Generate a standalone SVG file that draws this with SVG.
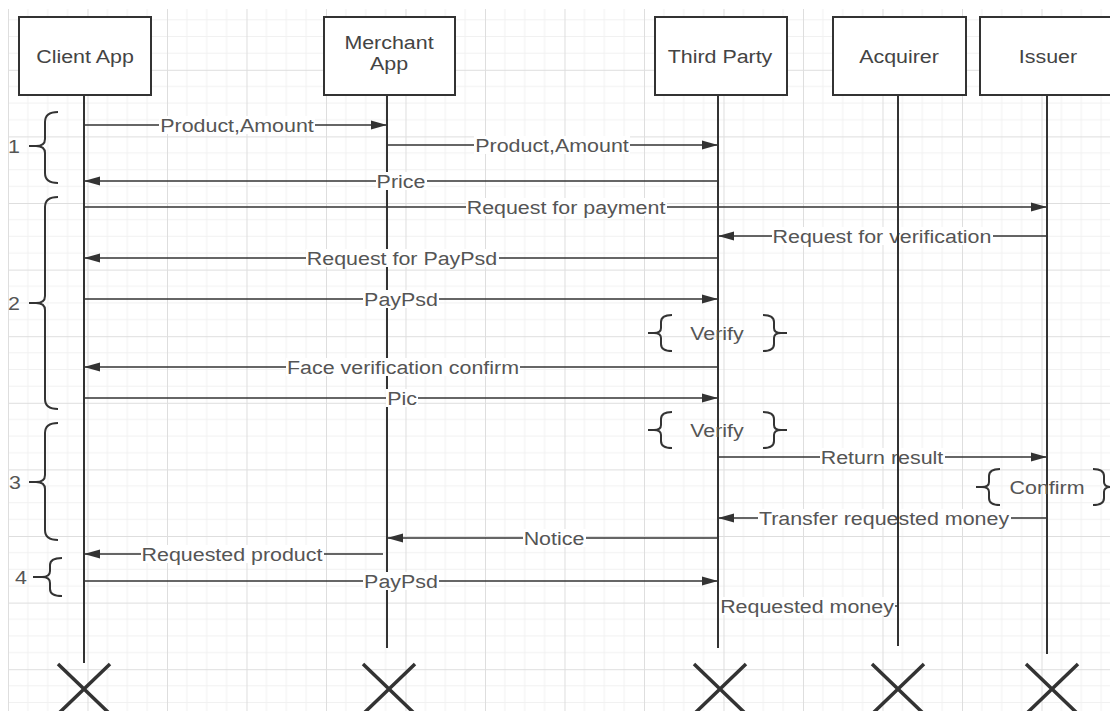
<svg xmlns="http://www.w3.org/2000/svg" width="1110" height="711" viewBox="0 0 1110 711">
<style>
.box{fill:#fff;stroke:#333;stroke-width:2}
.life{stroke:#333;stroke-width:2}
.msg{stroke:#333;stroke-width:1.6;fill:none}
.bg{fill:#fff}
.t{font-family:"Liberation Sans",Arial,sans-serif;font-size:18px;fill:#555;text-anchor:middle}
.h{font-family:"Liberation Sans",Arial,sans-serif;font-size:18px;fill:#444;text-anchor:middle}
.brace{fill:none;stroke:#333;stroke-width:2}
.x{stroke:#333;stroke-width:3.5}
</style>
<defs>
<pattern id="grid" patternUnits="userSpaceOnUse" x="8" y="3.2" width="79.5" height="66.6">
<path d="M19.875,0V66.6M39.75,0V66.6M59.625,0V66.6M0,16.65H79.5M0,33.3H79.5M0,49.95H79.5" stroke="#f1f1f1" stroke-width="1" fill="none"/>
<path d="M0.5,0V66.6M0,0.5H79.5" stroke="#dedede" stroke-width="1" fill="none"/>
</pattern>
<marker id="ah" markerUnits="userSpaceOnUse" markerWidth="16" markerHeight="10" refX="16" refY="5" orient="auto">
<path d="M0,0.5 L16,5 L0,9.5 z" fill="#333"/>
</marker>
<path id="lb" d="M24,0 Q13,0 13,7 L13,13 Q13,18 6,18 Q13,18 13,23 L13,29 Q13,36 24,36 M0,18 H6"/>
<path id="rb" d="M0,0 Q11,0 11,7 L11,13 Q11,18 18,18 Q11,18 11,23 L11,29 Q11,36 0,36 M18,18 H24"/>
</defs>
<rect width="1110" height="711" fill="#fff"/>
<rect x="8" y="9" width="1102" height="702" fill="url(#grid)"/>

<g id="client-app">
<rect class="box" x="19" y="17" width="132" height="78"/>
<text class="h" transform="translate(85,63) scale(1.19,1)">Client App</text>
<line class="life" x1="84" y1="95" x2="84" y2="663"/>
<path class="x" d="M58,664 L110,714 M110,664 L58,714"/>
</g>

<g id="merchant-app">
<rect class="box" x="324" y="17" width="131" height="78"/>
<text class="h" transform="translate(389,49) scale(1.19,1)">Merchant</text>
<text class="h" transform="translate(389,70) scale(1.19,1)">App</text>
<line class="life" x1="387" y1="95" x2="387" y2="648"/>
<path class="x" d="M363,664 L415,714 M415,664 L363,714"/>
</g>

<g id="connectors">
<line class="msg" x1="84" y1="125" x2="387" y2="125" marker-end="url(#ah)"/>
<line class="msg" x1="387" y1="145" x2="718" y2="145" marker-end="url(#ah)"/>
<line class="msg" x1="718" y1="181" x2="84" y2="181" marker-end="url(#ah)"/>
<line class="msg" x1="84" y1="207" x2="1047" y2="207" marker-end="url(#ah)"/>
<line class="msg" x1="1047" y1="236" x2="718" y2="236" marker-end="url(#ah)"/>
<line class="msg" x1="718" y1="258" x2="84" y2="258" marker-end="url(#ah)"/>
<line class="msg" x1="84" y1="299" x2="718" y2="299" marker-end="url(#ah)"/>
<line class="msg" x1="718" y1="367" x2="84" y2="367" marker-end="url(#ah)"/>
<line class="msg" x1="84" y1="398" x2="718" y2="398" marker-end="url(#ah)"/>
<line class="msg" x1="718" y1="457" x2="1047" y2="457" marker-end="url(#ah)"/>
<line class="msg" x1="1047" y1="518" x2="718" y2="518" marker-end="url(#ah)"/>
<line class="msg" x1="718" y1="538" x2="387" y2="538" marker-end="url(#ah)"/>
<line class="msg" x1="383" y1="554" x2="84" y2="554" marker-end="url(#ah)"/>
<line class="msg" x1="84" y1="581" x2="718" y2="581" marker-end="url(#ah)"/>
<line class="msg" x1="718" y1="606" x2="898" y2="606"/>

<rect class="bg" x="159" y="116" width="156" height="18"/>
<rect class="bg" x="474" y="136" width="156" height="18"/>
<rect class="bg" x="376" y="172" width="51" height="18"/>
<rect class="bg" x="466" y="198" width="201" height="18"/>
<rect class="bg" x="772" y="227" width="221" height="18"/>
<rect class="bg" x="306" y="249" width="193" height="18"/>
<rect class="bg" x="363" y="290" width="76" height="18"/>
<rect class="bg" x="286" y="358" width="234" height="18"/>
<rect class="bg" x="386" y="389" width="32" height="18"/>
<rect class="bg" x="820" y="448" width="125" height="18"/>
<rect class="bg" x="758" y="509" width="253" height="18"/>
<rect class="bg" x="523" y="529" width="63" height="18"/>
<rect class="bg" x="141" y="545" width="183" height="18"/>
<rect class="bg" x="363" y="572" width="76" height="18"/>
<rect class="bg" x="719" y="597" width="176" height="18"/>

<text class="t" transform="translate(237,131.5) scale(1.19,1)">Product,Amount</text>
<text class="t" transform="translate(552,151.5) scale(1.19,1)">Product,Amount</text>
<text class="t" transform="translate(401,187.5) scale(1.19,1)">Price</text>
<text class="t" transform="translate(566,213.5) scale(1.19,1)">Request for payment</text>
<text class="t" transform="translate(882,242.5) scale(1.19,1)">Request for verification</text>
<text class="t" transform="translate(402,264.5) scale(1.19,1)">Request for PayPsd</text>
<text class="t" transform="translate(401,305.5) scale(1.19,1)">PayPsd</text>
<text class="t" transform="translate(403,373.5) scale(1.19,1)">Face verification confirm</text>
<text class="t" transform="translate(402,404.5) scale(1.19,1)">Pic</text>
<text class="t" transform="translate(882,463.5) scale(1.19,1)">Return result</text>
<text class="t" transform="translate(884,524.5) scale(1.19,1)">Transfer requested money</text>
<text class="t" transform="translate(554,544.5) scale(1.19,1)">Notice</text>
<text class="t" transform="translate(232,560.5) scale(1.19,1)">Requested product</text>
<text class="t" transform="translate(401,587.5) scale(1.19,1)">PayPsd</text>
<text class="t" transform="translate(807,612.5) scale(1.19,1)">Requested money</text>
</g>

<g id="third-party">
<rect class="box" x="655" y="17" width="132" height="78"/>
<text class="h" transform="translate(720,63) scale(1.19,1)">Third Party</text>
<line class="life" x1="718" y1="95" x2="718" y2="648"/>
<path class="x" d="M694,664 L746,714 M746,664 L694,714"/>
</g>

<g id="acquirer">
<rect class="box" x="833" y="17" width="133" height="78"/>
<text class="h" transform="translate(899,63) scale(1.19,1)">Acquirer</text>
<line class="life" x1="898" y1="95" x2="898" y2="646"/>
<path class="x" d="M872,664 L924,714 M924,664 L872,714"/>
</g>

<g id="issuer">
<rect class="box" x="980" y="17" width="133" height="78"/>
<text class="h" transform="translate(1048,63) scale(1.19,1)">Issuer</text>
<line class="life" x1="1047" y1="95" x2="1047" y2="654"/>
<path class="x" d="M1026,664 L1078,714 M1078,664 L1026,714"/>
</g>

<g id="phase-1">
<path class="brace" d="M58,112 Q45,112 45,122 L45,139 Q45,146 36,146 Q45,146 45,153 L45,173 Q45,183 58,183 M29,146 H36"/>
<text class="t" transform="translate(14,152.5) scale(1.19,1)">1</text>
</g>
<g id="phase-2">
<path class="brace" d="M58,197 Q45,197 45,207 L45,296 Q45,303 36,303 Q45,303 45,310 L45,399 Q45,409 58,409 M29,303 H36"/>
<text class="t" transform="translate(14,309.5) scale(1.19,1)">2</text>
</g>
<g id="phase-3">
<path class="brace" d="M58,423 Q45,423 45,433 L45,475 Q45,482 36,482 Q45,482 45,489 L45,530 Q45,540 58,540 M29,482 H36"/>
<text class="t" transform="translate(15,488.5) scale(1.19,1)">3</text>
</g>
<g id="phase-4">
<path class="brace" d="M62,558 Q50,558 50,565 L50,571 Q50,577 42,577 Q50,577 50,583 L50,589 Q50,596 62,596 M33,577 H42"/>
<text class="t" transform="translate(21,583.5) scale(1.19,1)">4</text>
</g>

<g id="verify-1">
<use href="#lb" class="brace" x="648" y="315"/>
<use href="#rb" class="brace" x="763" y="315"/>
<text class="t" transform="translate(717,339.5) scale(1.19,1)">Verify</text>
</g>
<g id="verify-2">
<use href="#lb" class="brace" x="648" y="412"/>
<use href="#rb" class="brace" x="763" y="412"/>
<text class="t" transform="translate(717,436.5) scale(1.19,1)">Verify</text>
</g>
<g id="confirm">
<use href="#lb" class="brace" x="976" y="469"/>
<use href="#rb" class="brace" x="1093" y="469"/>
<text class="t" transform="translate(1047,493.5) scale(1.19,1)">Confirm</text>
</g>
</svg>
